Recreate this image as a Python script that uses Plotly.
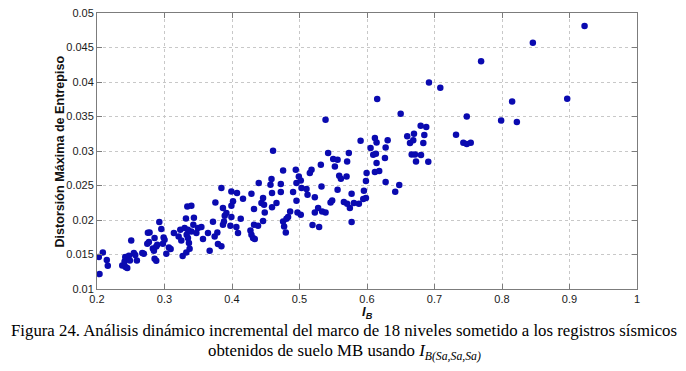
import plotly.graph_objects as go

ib = [
    0.2027, 0.2086, 0.2145, 0.2160, 0.2037, 0.2374, 0.2408, 0.2423, 0.2448, 0.2418,
    0.2472, 0.2487, 0.2546, 0.2567, 0.2591, 0.2507, 0.2671, 0.2694, 0.2745, 0.2769,
    0.2779, 0.2754, 0.2828, 0.2843, 0.2853, 0.2878, 0.2893, 0.2853, 0.2878, 0.2923,
    0.2953, 0.2987, 0.3001, 0.2976, 0.3027, 0.3065, 0.3091, 0.3139, 0.3209, 0.3234,
    0.3249, 0.3269, 0.3298, 0.3318, 0.3338, 0.3398, 0.3323, 0.3328, 0.3347, 0.3362,
    0.3372, 0.3347, 0.3398, 0.3427, 0.3436, 0.3472, 0.3496, 0.3546, 0.3570, 0.3644,
    0.3669, 0.3718, 0.3754, 0.3743, 0.3783, 0.3792,
    0.3843, 0.3866, 0.3917, 0.3892, 0.3881, 0.3866, 0.3843, 0.3991, 0.4015, 0.3991,
    0.3991, 0.3976, 0.4065, 0.4089, 0.4129, 0.4074, 0.4163, 0.4288, 0.4273, 0.4288,
    0.4312, 0.4337, 0.4326, 0.4386, 0.4326, 0.4396, 0.4436, 0.4460, 0.4475, 0.4485,
    0.4460, 0.4570, 0.4585, 0.4593, 0.4608, 0.4593, 0.4659, 0.4723, 0.4723, 0.4757,
    0.4757, 0.4772, 0.4797, 0.4807, 0.4831, 0.4861, 0.4905, 0.4945, 0.4955, 0.4955,
    0.4970, 0.5019, 0.4990, 0.5019, 0.5030, 0.5104, 0.5119, 0.5153, 0.5178, 0.5193,
    0.5227, 0.5227, 0.5276, 0.5291, 0.5316, 0.5326, 0.5335, 0.5386, 0.5424, 0.5460,
    0.5484, 0.5499, 0.5524, 0.5564, 0.5564, 0.5386,
    0.6151, 0.6499, 0.5905, 0.6053, 0.6117, 0.6142, 0.6306, 0.6276, 0.6092, 0.6132,
    0.6266, 0.6142, 0.6117, 0.6181, 0.5994, 0.5984, 0.6276, 0.6478, 0.6418, 0.5954,
    0.5984, 0.5944, 0.5880, 0.5806, 0.5746, 0.5772, 0.5706, 0.5657, 0.5772, 0.5731,
    0.5706, 0.5588, 0.5613, 0.5697, 0.6596, 0.6637, 0.6696, 0.6685, 0.6795, 0.6878,
    0.6849, 0.6834, 0.6662, 0.6711, 0.6800, 0.6726, 0.6908, 0.7319,
    0.9223, 0.8457, 0.7690, 0.6918, 0.7086, 0.8150, 0.8966, 0.7478, 0.7987, 0.8220,
    0.7427, 0.7478, 0.7537,
]

distorsion = [
    0.01464, 0.01530, 0.01420, 0.01338, 0.01217, 0.01342, 0.01400, 0.01319, 0.01304, 0.01464,
    0.01483, 0.01414, 0.01522, 0.01493, 0.01414, 0.01704, 0.01522, 0.01512, 0.01657, 0.01681,
    0.01820, 0.01816, 0.01588, 0.01555, 0.01739, 0.01617, 0.01642, 0.01439, 0.01410, 0.01971,
    0.01870, 0.01748, 0.01714, 0.01657, 0.01512, 0.01603, 0.01580, 0.01812, 0.01762, 0.01859,
    0.01704, 0.01478, 0.01884, 0.02023, 0.02197, 0.02207, 0.01530, 0.01787, 0.01739, 0.01667,
    0.01584, 0.01859, 0.01835, 0.01932, 0.02033, 0.01812, 0.01884, 0.01899, 0.01725, 0.01812,
    0.01555, 0.01975, 0.02255, 0.01762, 0.01820, 0.01652,
    0.02464, 0.02174, 0.02101, 0.02062, 0.01980, 0.01932, 0.01620, 0.02414, 0.02270, 0.02207,
    0.02043, 0.01917, 0.01899, 0.01812, 0.02019, 0.02391, 0.02309, 0.02381, 0.01849, 0.01787,
    0.01739, 0.01725, 0.01932, 0.01917, 0.02159, 0.02536, 0.02246, 0.02319, 0.02222, 0.02110,
    0.01986, 0.02512, 0.02594, 0.02391, 0.03004, 0.02183, 0.02246, 0.02522, 0.02406, 0.02719,
    0.01980, 0.01907, 0.01820, 0.02019, 0.02043, 0.02125, 0.02406, 0.02729, 0.02536, 0.02280,
    0.02110, 0.02077, 0.02632, 0.02574, 0.02464, 0.02449, 0.02367, 0.02681, 0.02729, 0.01928,
    0.02328, 0.02110, 0.02174, 0.01899, 0.02801, 0.02487, 0.02125, 0.02110, 0.02971, 0.02255,
    0.02284, 0.02884, 0.02777, 0.02874, 0.02439, 0.03454,
    0.03754, 0.03541, 0.03149, 0.03043, 0.03188, 0.03125, 0.03154, 0.03052, 0.02946, 0.02961,
    0.02899, 0.02826, 0.02696, 0.02710, 0.02681, 0.02565, 0.02551, 0.02507, 0.02410, 0.02425,
    0.02319, 0.02304, 0.02236, 0.02246, 0.02174, 0.02381, 0.02236, 0.02261, 0.01971, 0.02971,
    0.02849, 0.02642, 0.02599, 0.02632, 0.03212, 0.03116, 0.03251, 0.03154, 0.03367, 0.03348,
    0.03232, 0.03116, 0.02951, 0.02951, 0.02942, 0.02849, 0.02845, 0.03236,
    0.04812, 0.04570, 0.04299, 0.03994, 0.03917, 0.03719, 0.03758, 0.03501, 0.03443, 0.03420,
    0.03120, 0.03101, 0.03120,
]

x_ticks = [0.2, 0.3, 0.4, 0.5, 0.6, 0.7, 0.8, 0.9, 1.0]
x_tick_labels = ["0.2", "0.3", "0.4", "0.5", "0.6", "0.7", "0.8", "0.9", "1"]
y_ticks = [0.01, 0.015, 0.02, 0.025, 0.03, 0.035, 0.04, 0.045, 0.05]
y_tick_labels = ["0.01", "0.015", "0.02", "0.025", "0.03", "0.035", "0.04", "0.045", "0.05"]

y_title = "Distorsión Máxima de Entrepiso"
caption_1 = "Figura 24. Análisis dinámico incremental del marco de 18 niveles sometido a los registros sísmicos"
caption_2 = "obtenidos de suelo MB usando <i>I</i><sub><i>B(Sa,Sa,Sa)</i></sub>"

sans = "Liberation Sans, Arial, sans-serif"
serif = "Liberation Serif, Times New Roman, serif"

fig = go.Figure()
fig.add_trace(go.Scatter(
    x=ib, y=distorsion, mode="markers",
    marker=dict(size=6.5, color="#0a0ab0", line=dict(width=0)),
    showlegend=False, hoverinfo="skip",
))

axis_common = dict(
    showgrid=True, gridcolor="#c8c8c8", griddash="dot", gridwidth=1,
    showline=True, linecolor="#7c7c7c", linewidth=1, mirror="ticks",
    ticks="inside", ticklen=5, tickcolor="#7c7c7c", tickwidth=1,
    zeroline=False, automargin=False, ticklabeloverflow="allow",
    tickfont=dict(family=sans, size=11, color="#1a1a1a"),
)

fig.update_xaxes(range=[0.2, 1.0], tickvals=x_ticks, ticktext=x_tick_labels, **axis_common)
fig.update_yaxes(range=[0.01, 0.05], tickvals=y_ticks, ticktext=y_tick_labels, **axis_common)

fig.update_layout(
    width=678, height=363, autosize=False,
    margin=dict(l=89, r=49, t=5, b=82, pad=0),
    paper_bgcolor="white", plot_bgcolor="white",
    annotations=[
        dict(text="<b>" + y_title + "</b>", xref="paper", yref="paper",
             x=-0.068, y=0.499, textangle=-90, showarrow=False,
             xanchor="center", yanchor="middle",
             font=dict(family=sans, size=12.6, color="#111111")),
        dict(text="<b><i>I</i></b><sub><b><i>B</i></b></sub>", xref="paper", yref="paper",
             x=0.5, y=-0.086, showarrow=False, xanchor="center", yanchor="middle",
             font=dict(family=sans, size=13, color="#111111")),
        dict(text=caption_1, xref="paper", yref="paper",
             x=0.4577, y=-0.151, showarrow=False, xanchor="center", yanchor="middle",
             font=dict(family=serif, size=16.8, color="#000000")),
        dict(text=caption_2, xref="paper", yref="paper",
             x=0.4577, y=-0.228, showarrow=False, xanchor="center", yanchor="middle",
             font=dict(family=serif, size=16.8, color="#000000")),
    ],
)

fig.write_html("out.html")
